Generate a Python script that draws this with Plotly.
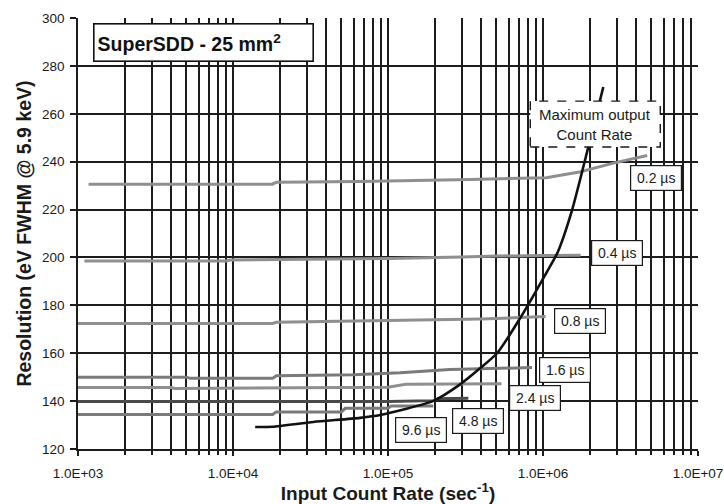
import numpy as np
import plotly.graph_objects as go

# Resolution (eV FWHM @ 5.9 keV) versus input count rate, per peaking time
icr_02 = [1.17e3, 1.8e4, 1.9e4, 6.6e4, 3.4e5, 1.05e6, 1.75e6, 2.8e6, 4.7e6]
res_02 = [230.6, 230.6, 231.4, 231.7, 232.6, 233.3, 235.8, 239.3, 242.6]

icr_04 = [1.1e3, 9e3, 9.5e3, 3e4, 1e5, 3e5, 5e5, 1e6, 1.75e6]
res_04 = [198.5, 198.5, 198.9, 199.2, 199.6, 200.2, 200.6, 200.8, 200.9]

icr_08 = [1e3, 1.8e4, 1.9e4, 1e5, 4e5, 1.04e6]
res_08 = [172.4, 172.4, 172.9, 173.5, 174.3, 175.3]

icr_16 = [1e3, 5e3, 5.3e3, 1.8e4, 1.9e4, 6e4, 1.2e5, 2.5e5, 8.5e5]
res_16 = [150.0, 150.0, 149.5, 149.5, 150.6, 151.0, 151.8, 153.2, 154.0]

icr_24 = [1e3, 4e3, 4.2e3, 1.8e4, 1e5, 1.3e5, 5.4e5]
res_24 = [145.7, 145.7, 145.3, 145.4, 145.8, 147.0, 147.2]

icr_48 = [1e3, 1e5, 2e5, 2.1e5, 3.3e5]
res_48 = [139.8, 139.8, 140.2, 141.0, 141.2]

icr_96 = [1e3, 1.8e4, 1.9e4, 5e4, 5.3e4, 1e5, 1.05e5, 1.96e5]
res_96 = [134.4, 134.4, 135.5, 135.5, 137.0, 137.0, 138.0, 138.0]

# Maximum output count rate locus
icr_max = [1.39e4, 1.8e4, 3.3e4, 6.6e4, 8.9e4, 1.96e5, 2.92e5, 3.94e5,
           5.07e5, 7.13e5, 1.06e6, 1.24e6, 1.54e6, 1.96e6, 2.2e6, 2.45e6]
res_max = [129.2, 129.3, 131.3, 133.0, 134.2, 140.1, 147.0, 153.8,
           160.1, 174.7, 194.0, 202.0, 219.8, 246.1, 259.0, 271.2]

peaking_labels = ["0.2 µs", "0.4 µs", "0.8 µs", "1.6 µs", "2.4 µs", "4.8 µs", "9.6 µs"]
# label box centres (count rate, resolution)
label_x = [5.38e6, 3.01e6, 1.74e6, 1.38e6, 8.85e5, 3.79e5, 1.64e5]
label_y = [233.2, 201.9, 173.3, 153.2, 141.3, 131.9, 127.8]

x_tick_vals = [1e3, 1e4, 1e5, 1e6, 1e7]
x_tick_text = ["1.0E+03", "1.0E+04", "1.0E+05", "1.0E+06", "1.0E+07"]
y_tick_vals = list(range(120, 301, 20))

FONT = "Arial, Liberation Sans, sans-serif"
GRID = "#1c1c1c"
GRAY = "#8f8f8f"
TXT = "#1a1a1a"

series = [
    (icr_02, res_02, GRAY),
    (icr_04, res_04, GRAY),
    (icr_08, res_08, GRAY),
    (icr_16, res_16, "#7a7a7a"),
    (icr_24, res_24, GRAY),
    (icr_48, res_48, "#4a4a4a"),
    (icr_96, res_96, "#7a7a7a"),
]

fig = go.Figure()
for (xs, ys, col), name in zip(series, peaking_labels):
    fig.add_trace(go.Scatter(x=xs, y=ys, mode="lines", name=name,
                             line=dict(color=col, width=3), showlegend=False))

fig.add_trace(go.Scatter(x=icr_max, y=res_max, mode="lines", name="Maximum output Count Rate",
                         line=dict(color="#111111", width=2.6, shape="spline", smoothing=0.6),
                         showlegend=False))

minor_vals = [m * 10 ** d for d in range(3, 7) for m in range(2, 10)]

fig.update_xaxes(
    type="log", range=[3, 7], automargin=False,
    tickvals=x_tick_vals, ticktext=x_tick_text,
    ticks="outside", ticklen=5, tickwidth=1.5, tickcolor=GRID, ticklabelstandoff=6,
    showgrid=True, gridcolor=GRID, gridwidth=1.7,
    minor=dict(tickvals=minor_vals, showgrid=True, gridcolor=GRID, gridwidth=1.7,
               ticks="outside", ticklen=4, tickwidth=1.5, tickcolor=GRID),
    showline=True, linecolor=GRID, linewidth=1.7,
    tickfont=dict(family=FONT, size=13.5, color=TXT),
    title=dict(text="<b>Input Count Rate (sec<sup>-1</sup>)</b>",
               font=dict(family=FONT, size=19, color=TXT), standoff=4),
    zeroline=False,
)
fig.update_yaxes(
    range=[120, 300], tickvals=y_tick_vals, automargin=False,
    ticks="outside", ticklen=6, tickwidth=1.5, tickcolor=GRID, ticklabelstandoff=3,
    showgrid=True, gridcolor=GRID, gridwidth=1.7,
    showline=True, linecolor=GRID, linewidth=1.7,
    tickfont=dict(family=FONT, size=13.5, color=TXT),
    title=dict(text="<b>Resolution (eV FWHM @ 5.9 keV)</b>",
               font=dict(family=FONT, size=19.5, color=TXT), standoff=5),
    zeroline=False,
)

annotations = []
for txt, lx, ly in zip(peaking_labels, label_x, label_y):
    annotations.append(dict(
        x=np.log10(lx), y=ly, xref="x", yref="y", text=txt, showarrow=False,
        font=dict(family=FONT, size=14, color=TXT), width=44, height=18,
        bgcolor="white", bordercolor=TXT, borderwidth=1.2, borderpad=3,
    ))

# dashed call-out for the maximum output count rate curve
box_x0, box_x1, box_y0, box_y1 = 8.28e5, 5.71e6, 246.1, 265.3
shapes = [dict(type="rect", xref="x", yref="y", x0=box_x0, x1=box_x1, y0=box_y0, y1=box_y1,
               line=dict(color=TXT, width=1.4, dash="dash"), fillcolor="white",
               layer="above")]
annotations.append(dict(
    x=np.log10(np.sqrt(box_x0 * box_x1)), y=(box_y0 + box_y1) / 2, xref="x", yref="y",
    text="Maximum output<br>Count Rate", showarrow=False,
    font=dict(family=FONT, size=15, color=TXT),
))

# chart title box
annotations.append(dict(
    x=np.log10(6.46e3), y=289.6, xref="x", yref="y",
    text="<b>SuperSDD - 25 mm<sup>2</sup></b>", showarrow=False, align="left",
    width=212, height=30, xanchor="center", yanchor="middle",
    font=dict(family=FONT, size=19.5, color="#111111"),
    bgcolor="white", bordercolor="#111111", borderwidth=1.6, borderpad=3,
))

fig.update_layout(
    width=724, height=504,
    margin=dict(l=78, r=26, t=18, b=55),
    plot_bgcolor="white", paper_bgcolor="white",
    annotations=annotations, shapes=shapes,
    showlegend=False,
)

fig.write_html("out.html")
